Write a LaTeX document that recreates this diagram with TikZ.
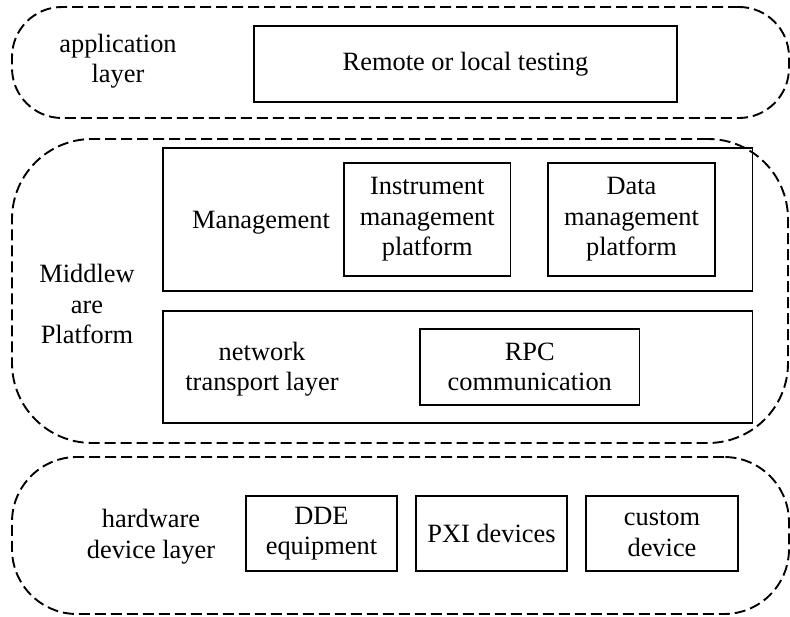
\documentclass[tikz,border=0pt]{standalone}
\usepackage{fontspec}
\setmainfont{Liberation Serif}
\begin{document}
\begin{tikzpicture}[x=1pt,y=-1pt,
  every node/.style={font=\fontsize{26.4}{30.5}\selectfont, align=center, inner sep=0pt},
  layer/.style={draw, dash pattern=on 11pt off 5pt, line width=1.9pt, rectangle},
  block/.style={draw, line width=1.9pt, rectangle},
  label/.style={}]
\useasboundingbox (0,0) rectangle (790,617);

% dashed layer frames
\node[layer, rounded corners=50pt, minimum width=777pt, minimum height=111pt] (applayer) at (400.5,62.5) {};
\node[layer, rounded corners=80pt, minimum width=776pt, minimum height=304pt] (midlayer) at (400,291) {};
\node[layer, rounded corners=65pt, minimum width=777pt, minimum height=157pt] (hwlayer) at (400.5,535.5) {};

% application layer
\node[label] (applabel) at (118,61) {application\\layer};
\node[block, minimum width=423pt, minimum height=76pt] (remote) at (465.5,64) {Remote or local testing};

% middleware platform
\node[label] (midlabel) at (87,304) {Middlew\\are\\Platform};
\node[block, minimum width=589.5pt, minimum height=143pt] (mgmt) at (457.75,219.5) {};
\node[label] (mgmtlabel) at (261,223) {Management};
\node[block, minimum width=166.5pt, minimum height=113pt] (instr) at (427.25,219.5) {Instrument\\management\\platform};
\node[block, minimum width=167pt, minimum height=113pt] (data) at (631.5,219.5) {Data\\management\\platform};
\node[block, minimum width=589.5pt, minimum height=112pt] (net) at (457.75,367) {};
\node[label] (netlabel) at (262,369) {network\\transport layer};
\node[block, minimum width=219.5pt, minimum height=76pt] (rpc) at (529.75,367) {RPC\\communication};

% hardware device layer
\node[label] (hwlabel) at (151,536.5) {hardware\\device layer};
\node[block, minimum width=151pt, minimum height=75pt] (dde) at (321.5,533.5) {DDE\\equipment};
\node[block, minimum width=151pt, minimum height=75pt] (pxi) at (491.5,533.5) {PXI devices};
\node[block, minimum width=152pt, minimum height=75pt] (custom) at (662,533.5) {custom\\device};
\end{tikzpicture}
\end{document}
